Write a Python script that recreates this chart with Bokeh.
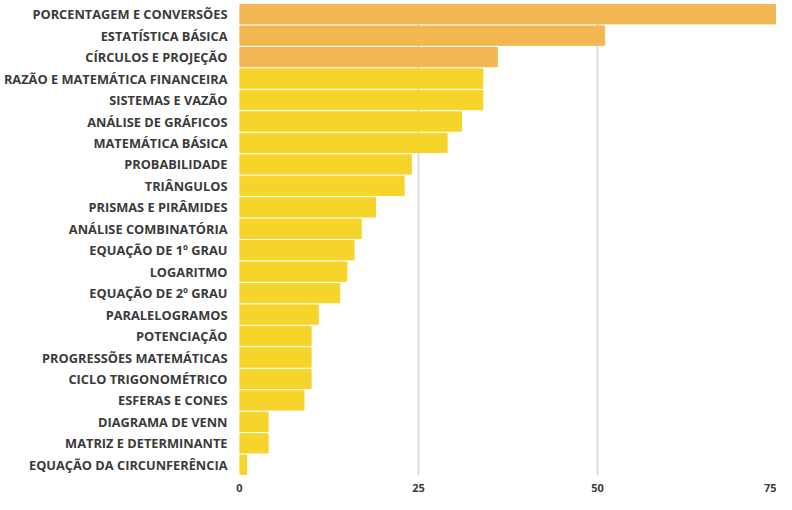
from bokeh.plotting import figure
from bokeh.models import FactorRange, FixedTicker, ColumnDataSource
from bokeh.embed import file_html
from bokeh.resources import INLINE

topics = [
    "PORCENTAGEM E CONVERSÕES", "ESTATÍSTICA BÁSICA", "CÍRCULOS E PROJEÇÃO",
    "RAZÃO E MATEMÁTICA FINANCEIRA", "SISTEMAS E VAZÃO", "ANÁLISE DE GRÁFICOS",
    "MATEMÁTICA BÁSICA", "PROBABILIDADE", "TRIÂNGULOS", "PRISMAS E PIRÂMIDES",
    "ANÁLISE COMBINATÓRIA", "EQUAÇÃO DE 1º GRAU", "LOGARITMO", "EQUAÇÃO DE 2º GRAU",
    "PARALELOGRAMOS", "POTENCIAÇÃO", "PROGRESSÕES MATEMÁTICAS", "CICLO TRIGONOMÉTRICO",
    "ESFERAS E CONES", "DIAGRAMA DE VENN", "MATRIZ E DETERMINANTE",
    "EQUAÇÃO DA CIRCUNFERÊNCIA",
]
counts = [75, 51, 36, 34, 34, 31, 29, 24, 23, 19, 17, 16, 15, 14, 11, 10, 10, 10, 9, 4, 4, 1]
groups = ["top"] * 3 + ["rest"] * 19
x_ticks = [0, 25, 50, 75]

palette = {"top": "#F2B753", "rest": "#F6D42A"}
colors = [palette[g] for g in groups]

src = ColumnDataSource(dict(topic=topics, count=counts, color=colors))

p = figure(
    width=776, height=494,
    y_range=FactorRange(factors=list(reversed(topics))),
    x_range=(0, 75),
    output_backend="svg", toolbar_location=None,
    min_border_top=3, min_border_right=0, min_border_bottom=14, min_border_left=230,
)

p.hbar(y="topic", right="count", height=0.9, color="color", source=src)

p.outline_line_color = None
p.ygrid.grid_line_color = None
p.xgrid.grid_line_color = "#dcdcdc"
p.xgrid.grid_line_width = 2
p.xaxis.ticker = FixedTicker(ticks=x_ticks)

for ax in (p.xaxis, p.yaxis):
    ax.axis_line_color = None
    ax.major_tick_line_color = None
    ax.minor_tick_line_color = None
    ax.major_label_text_font = "Open Sans"
    ax.major_label_text_font_style = "bold"
    ax.major_label_text_color = "#3a3a3a"

p.yaxis.major_label_text_font_size = "12.8px"
p.xaxis.major_label_text_font_size = "11px"
p.yaxis.major_label_standoff = 6
p.xaxis.major_label_standoff = 2

open("out.html", "w").write(file_html(p, INLINE))
